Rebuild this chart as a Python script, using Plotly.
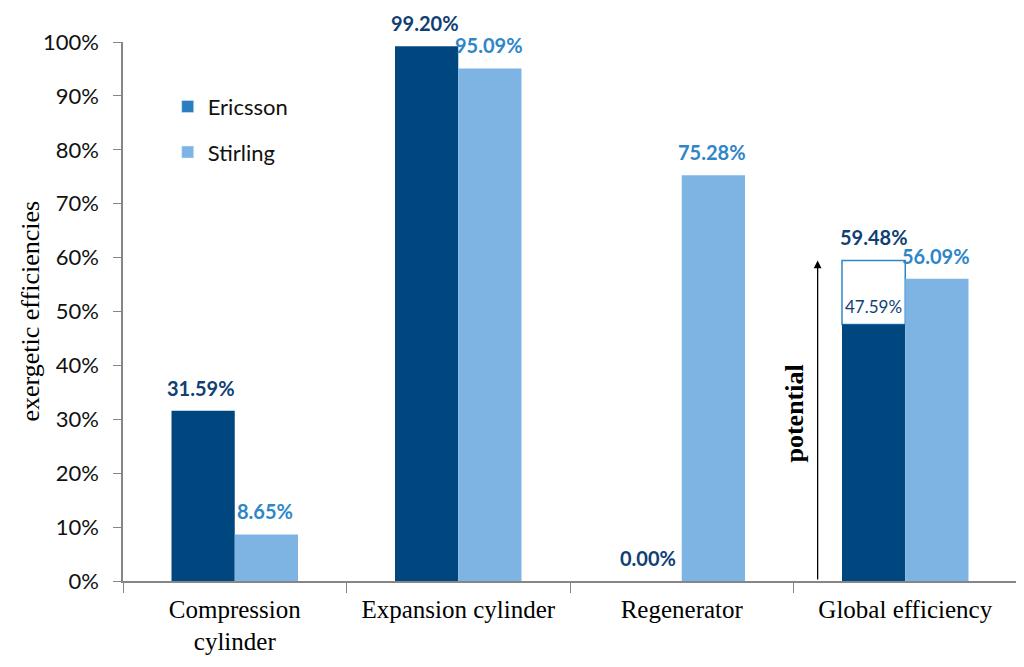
import plotly.graph_objects as go

categories = ["Compression<br>cylinder", "Expansion cylinder", "Regenerator", "Global efficiency"]
ericsson = [31.59, 99.20, 0.00, 47.59]
stirling = [8.65, 95.09, 75.28, 56.09]
ericsson_potential = 59.48  # Global efficiency potential of Ericsson engine
y_ticks = [0, 10, 20, 30, 40, 50, 60, 70, 80, 90, 100]
y_ticktext = ["%d%%" % v for v in y_ticks]

C_ERI = "#00477F"
C_STI = "#7EB4E4"
C_ERI_LEG = "#2A7DC0"
C_ERI_TXT = "#0F3F73"
C_STI_TXT = "#2E86C8"

W = 0.283
CAT_PX = 223
SANS = "Lato, Liberation Sans, sans-serif"
SERIF = "Liberation Serif, Times New Roman, serif"

fig = go.Figure()
# potential box (Global efficiency, Ericsson)
fig.add_trace(go.Bar(
    x=[categories[3]], y=[ericsson_potential - ericsson[3]], base=[ericsson[3]],
    width=W, offset=-W, marker=dict(color="white", line=dict(color=C_STI_TXT, width=1.5)),
    showlegend=False, hoverinfo="skip"))
fig.add_trace(go.Bar(x=categories, y=ericsson, width=W, offset=-W,
                     marker=dict(color=C_ERI, line=dict(width=0)), showlegend=False))
fig.add_trace(go.Bar(x=categories, y=stirling, width=W, offset=0,
                     marker=dict(color=C_STI, line=dict(width=0)), showlegend=False))
# legend entries
fig.add_trace(go.Bar(x=[None], y=[None], name="Ericsson", marker_color=C_ERI_LEG, legendgroup="a"))
fig.add_trace(go.Bar(x=[None], y=[None], name="Stirling", marker_color=C_STI, legendgroup="b"))

ann = []
for i, c in enumerate(categories):
    if i == 3:
        ann.append(dict(x=c, y=ericsson_potential, text="<b>%.2f%%</b>" % ericsson_potential,
                        xshift=-W * CAT_PX / 2, yshift=9, yanchor="bottom", showarrow=False,
                        font=dict(family=SANS, size=20, color=C_ERI_TXT)))
        ann.append(dict(x=c, y=ericsson[i], text="%.2f%%" % ericsson[i],
                        xshift=-W * CAT_PX / 2, yshift=5, yanchor="bottom", showarrow=False,
                        font=dict(family=SANS, size=17, color=C_ERI_TXT)))
    else:
        ann.append(dict(x=c, y=ericsson[i], text="<b>%.2f%%</b>" % ericsson[i],
                        xshift=-W * CAT_PX / 2 - 2, yshift=9, yanchor="bottom", showarrow=False,
                        font=dict(family=SANS, size=20, color=C_ERI_TXT)))
    ann.append(dict(x=c, y=stirling[i], text="<b>%.2f%%</b>" % stirling[i],
                    xshift=W * CAT_PX / 2 - 1, yshift=9, yanchor="bottom", showarrow=False,
                    font=dict(family=SANS, size=20, color=C_STI_TXT)))

# potential arrow
ann.append(dict(x=2.608, y=ericsson_potential, ax=2.608, ay=0, xref="x", yref="y",
                axref="x", ayref="y", showarrow=True, arrowhead=2, arrowsize=1.2,
                arrowwidth=1.3, arrowcolor="black", text=""))
ann.append(dict(x=2.505, y=31, xref="x", yref="y", text="<b>potential</b>", textangle=-90,
                showarrow=False, font=dict(family=SERIF, size=26, color="black")))
# y-axis title
ann.append(dict(x=-0.104, y=0.5, xref="paper", yref="paper", text="exergetic efficiencies",
                textangle=-90, showarrow=False, xanchor="center", yanchor="middle",
                font=dict(family=SERIF, size=26, color="black")))

fig.update_layout(
    width=1016, height=659,
    margin=dict(l=115, r=7, t=34, b=86),
    paper_bgcolor="white", plot_bgcolor="white",
    barmode="overlay",
    annotations=ann,
    legend=dict(x=0.05, y=0.919, xanchor="left", yanchor="top",
                font=dict(family=SANS, size=22, color="#111"),
                traceorder="grouped", tracegroupgap=14, bgcolor="rgba(0,0,0,0)",
                itemwidth=30),
    xaxis=dict(showline=True, linecolor="#868686", linewidth=1.5, ticks="outside",
               tickson="boundaries", ticklen=10, tickcolor="#868686",
               categoryorder="array", categoryarray=categories,
               ticklabelstandoff=5,
               tickfont=dict(family=SERIF, size=25, color="black"), showgrid=False),
    yaxis=dict(range=[0, 100], tickvals=y_ticks, ticktext=y_ticktext, showline=True,
               linecolor="#868686", linewidth=1.5, ticks="outside", ticklen=8,
               tickcolor="#868686", showgrid=False, zeroline=False,
               ticklabelstandoff=10,
               tickfont=dict(family=SANS, size=22, color="#111")),
)
fig.write_html("out.html")
